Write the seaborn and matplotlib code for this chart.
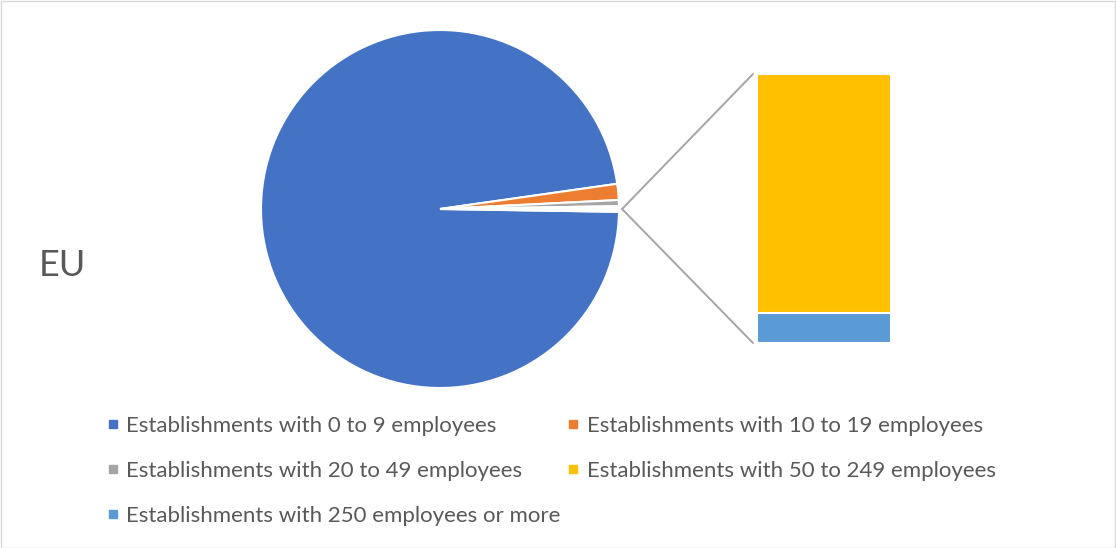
import matplotlib
matplotlib.use("Agg")
import matplotlib.pyplot as plt
from matplotlib.lines import Line2D
from matplotlib.patches import ConnectionPatch, Rectangle
import numpy as np
import pandas as pd
import seaborn as sns

# share of establishments by size class (%)
categories = [
    "Establishments with 0 to 9 employees",
    "Establishments with 10 to 19 employees",
    "Establishments with 20 to 49 employees",
    "Establishments with 50 to 249 employees",
    "Establishments with 250 employees or more",
]
shares = [97.5, 1.45, 0.55, 0.445, 0.055]
colors = ["#4472C4", "#ED7D31", "#A5A5A5", "#FFC000", "#5B9BD5"]
region = "EU"

W, H = 1116, 548
text_color = "#595959"

sns.set_theme(style="white")
plt.rcParams["font.family"] = ["Lato", "DejaVu Sans"]

fig = plt.figure(figsize=(W / 100, H / 100), dpi=100)


def px_axes(x0, y0, x1, y1):
    """axes placed by pixel box (top-left origin)"""
    return fig.add_axes([x0 / W, 1 - y1 / H, (x1 - x0) / W, (y1 - y0) / H])


# main pie, last two classes merged into the "other" slice
main_vals = shares[:3] + [sum(shares[3:])]
other_deg = main_vals[-1] / sum(main_vals) * 360
ax_pie = px_axes(261, 30, 619, 388)
ax_pie.pie(
    main_vals,
    colors=colors[:3] + ["white"],
    startangle=-other_deg / 2,
    counterclock=False,
    wedgeprops=dict(edgecolor="white", linewidth=1.5),
)
ax_pie.set_xlim(-1, 1)
ax_pie.set_ylim(-1, 1)
ax_pie.set_aspect("equal")
ax_pie.axis("off")

# secondary stacked bar
other_total = sum(shares[3:])
bar_df = pd.DataFrame({"part": ["other"], "total": [other_total], "bottom": [shares[4]]})
ax_bar = px_axes(757, 74, 891, 343)
sns.barplot(data=bar_df, x="part", y="total", color=colors[3], saturation=1, width=1,
            edgecolor="white", linewidth=1.5, ax=ax_bar)
sns.barplot(data=bar_df, x="part", y="bottom", color=colors[4], saturation=1, width=1,
            edgecolor="white", linewidth=1.5, ax=ax_bar)
ax_bar.set_xlim(-0.5, 0.5)
ax_bar.set_ylim(0, other_total)
ax_bar.axis("off")

# connector lines from the other slice to the bar
for yb in (other_total, 0):
    con = ConnectionPatch(xyA=(1.017, 0), coordsA=ax_pie.transData,
                          xyB=(-0.53, yb), coordsB=ax_bar.transData,
                          color="#A5A5A5", lw=1.4)
    fig.add_artist(con)

fig.text(39 / W, 1 - 266 / H, region, fontsize=26, va="center", ha="left", color=text_color)

handles = [Line2D([], [], marker="s", ls="", color=c, markersize=6) for c in colors]
order = [0, 2, 4, 1, 3]
fig.legend([handles[i] for i in order], [categories[i] for i in order],
           ncol=2, loc="upper left", bbox_to_anchor=(106 / W, 1 - 416 / H),
           frameon=False, fontsize=16, labelcolor=text_color,
           handlelength=0.6, handletextpad=0.31, columnspacing=0.27, labelspacing=1.12,
           borderpad=0, borderaxespad=0)

fig.add_artist(Rectangle((0.5 / W, 0.5 / H), 1 - 1.5 / W, 1 - 1.5 / H, transform=fig.transFigure,
                         fill=False, edgecolor="#D9D9D9", lw=1))

fig.savefig("out.png", dpi=100)
